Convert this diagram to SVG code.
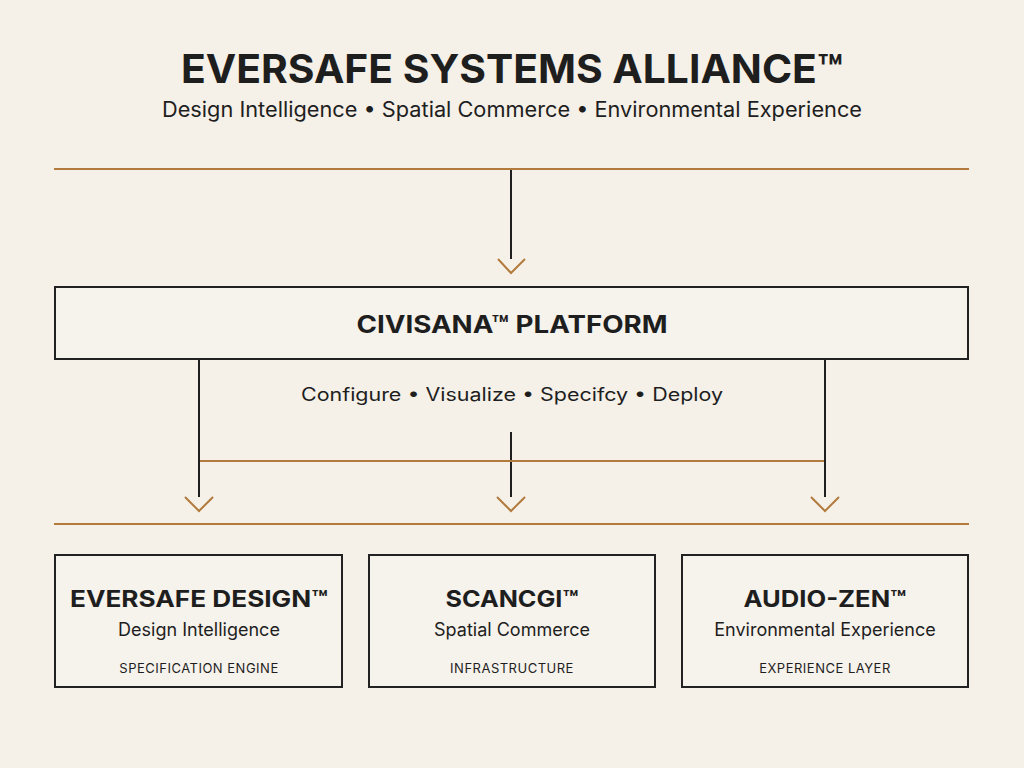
<svg xmlns="http://www.w3.org/2000/svg" width="1024" height="768" viewBox="0 0 1024 768">
<defs>
<style>
.bg{fill:#f5f0e8}
.box{fill:#f6f2ec;stroke:#222;stroke-width:2}
.gold{stroke:#b27b3c;stroke-width:2;fill:none}
.blk{stroke:#1f1f1f;stroke-width:2;fill:none}
.chev{stroke:#b27b3c;stroke-width:2;fill:none}
.t{font-family:Inter,"Liberation Sans",sans-serif;fill:#1e1e1e;text-anchor:middle}
.h{font-weight:700}
.s{font-size:13px;letter-spacing:0.5px}
</style>
</defs>
<rect class="bg" x="0" y="0" width="1024" height="768"/>
<g id="header">
<text class="t h" x="512" y="83" font-size="40" textLength="662" lengthAdjust="spacingAndGlyphs">EVERSAFE SYSTEMS ALLIANCE™</text>
<text class="t" x="512" y="117" font-size="21" textLength="700" lengthAdjust="spacingAndGlyphs">Design Intelligence • Spatial Commerce • Environmental Experience</text>
</g>
<g id="connectors">
<line class="gold" x1="54" y1="169" x2="969" y2="169"/>
<line class="blk" x1="511" y1="170" x2="511" y2="259"/>
<polyline class="chev" points="498,259 511,273 525,259"/>
<line class="blk" x1="199" y1="360" x2="199" y2="497"/>
<line class="blk" x1="825" y1="360" x2="825" y2="497"/>
<line class="blk" x1="511" y1="432" x2="511" y2="497"/>
<line class="gold" x1="200" y1="461" x2="824" y2="461"/>
<polyline class="chev" points="185,497 199,511 213,497"/>
<polyline class="chev" points="497,497 511,511 525,497"/>
<polyline class="chev" points="811,497 825,511 839,497"/>
<line class="gold" x1="54" y1="524" x2="969" y2="524"/>
</g>
<g id="platform">
<rect class="box" x="55" y="287" width="913" height="72"/>
<text class="t h" x="512" y="333" font-size="24" textLength="311" lengthAdjust="spacingAndGlyphs">CIVISANA™ PLATFORM</text>
<text class="t" x="512" y="401" font-size="18" textLength="422" lengthAdjust="spacingAndGlyphs">Configure  •  Visualize  •  Specifcy  •  Deploy</text>
</g>
<g id="eversafe-design">
<rect class="box" x="55" y="555" width="287" height="132"/>
<text class="t h" x="199" y="607" font-size="23" textLength="258" lengthAdjust="spacingAndGlyphs">EVERSAFE DESIGN™</text>
<text class="t" x="199" y="636" font-size="18">Design Intelligence</text>
<text class="t s" x="199" y="673">SPECIFICATION ENGINE</text>
</g>
<g id="scancgi">
<rect class="box" x="369" y="555" width="286" height="132"/>
<text class="t h" x="512" y="607" font-size="23" textLength="133" lengthAdjust="spacingAndGlyphs">SCANCGI™</text>
<text class="t" x="512" y="636" font-size="18">Spatial Commerce</text>
<text class="t s" x="512" y="673">INFRASTRUCTURE</text>
</g>
<g id="audio-zen">
<rect class="box" x="682" y="555" width="286" height="132"/>
<text class="t h" x="825" y="607" font-size="23" textLength="163" lengthAdjust="spacingAndGlyphs">AUDIO-ZEN™</text>
<text class="t" x="825" y="636" font-size="18">Environmental Experience</text>
<text class="t s" x="825" y="673">EXPERIENCE LAYER</text>
</g>
</svg>
